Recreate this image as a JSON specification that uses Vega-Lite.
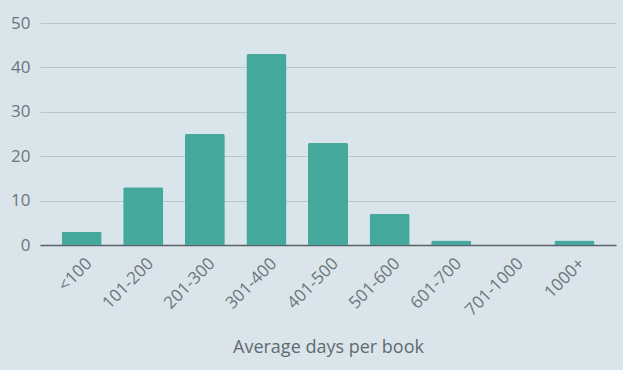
{
  "$schema": "https://vega.github.io/schema/vega-lite/v6.json",
  "autosize": "none",
  "width": 576,
  "height": 222,
  "padding": {"left": 40, "top": 23, "right": 7, "bottom": 125},
  "background": "#dae5eb",
  "config": {
    "view": {"stroke": null},
    "font": "Open Sans"
  },
  "data": {
    "values": [
      {"range": "<100", "count": 3},
      {"range": "101-200", "count": 13},
      {"range": "201-300", "count": 25},
      {"range": "301-400", "count": 43},
      {"range": "401-500", "count": 23},
      {"range": "501-600", "count": 7},
      {"range": "601-700", "count": 1},
      {"range": "701-1000", "count": 0},
      {"range": "1000+", "count": 1}
    ]
  },
  "mark": {"type": "bar", "color": "#45a89d", "cornerRadiusTopLeft": 2, "cornerRadiusTopRight": 2},
  "encoding": {
    "x": {
      "field": "range",
      "type": "nominal",
      "sort": null,
      "scale": {"paddingInner": 0.35, "paddingOuter": 0.35},
      "axis": {
        "title": "Average days per book",
        "titleFont": "Open Sans",
        "titleFontSize": 18,
        "titleFontWeight": "normal",
        "titleColor": "#5f6a70",
        "titlePadding": 20,
        "labelAngle": -45,
        "labelFontSize": 17,
        "labelColor": "#6b767c",
        "labelPadding": 10,
        "labelOffset": 2,
        "domainColor": "#5a6268",
        "domainWidth": 1.5,
        "ticks": false,
        "grid": false
      }
    },
    "y": {
      "field": "count",
      "type": "quantitative",
      "scale": {"domain": [0, 50]},
      "axis": {
        "title": null,
        "values": [0, 10, 20, 30, 40, 50],
        "labelFontSize": 17,
        "labelColor": "#6b767c",
        "labelPadding": 10,
        "domain": false,
        "ticks": false,
        "gridColor": "#b9c6cb",
        "gridWidth": 1
      }
    }
  }
}
